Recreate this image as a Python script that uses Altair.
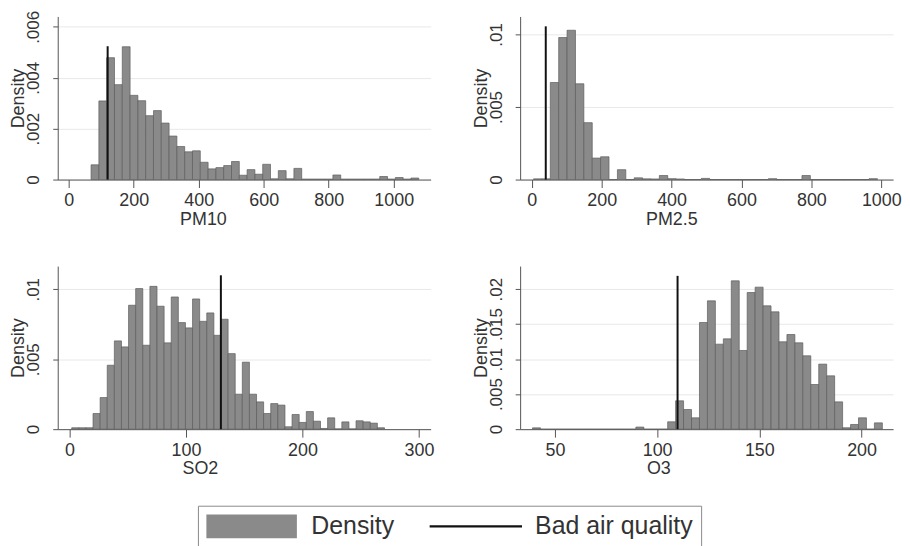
import altair as alt
import pandas as pd

FONT = "Liberation Sans"
BAR_FILL = "#8a8a8a"
BAR_STROKE = "#5e5e5e"
LINE_COLOR = "#111111"

# ---------------- data ----------------
pm10_bin_start = 69.0
pm10_bin_width = 24.0
pm10_density = [0.00058, 0.00309, 0.00479, 0.00373, 0.00522, 0.00331, 0.00310, 0.00251, 0.00271, 0.00222,
                0.00171, 0.00130, 0.00109, 0.00113, 0.00068, 0.00042, 0.00047, 0.00055, 0.00071, 0.00017,
                0.00039, 0.00021, 0.00060, 0.00003, 0.00035, 0.00003, 0.00044, 0.00002, 0.00002, 0.00002,
                0.00002, 0.00018, 0.00002, 0.00002, 0.00002, 0.00002, 0.00002, 0.00012, 0.00002, 0.00008,
                0.00002, 0.00006]
pm10_bad = 120
pm10_line_top = 0.00524

pm25_bin_start = 5.0
pm25_bin_width = 24.0
pm25_density = [0.00005, 0.00005, 0.00669, 0.00979, 0.01029, 0.00660, 0.00392, 0.00148, 0.00157, 0.0,
                0.00068, 0.0, 0.00012, 0.00005, 0.00004, 0.00028, 0.00006, 0.00004, 0.0, 0.0,
                0.00008, 0.0, 0.0, 0.0, 0.0, 0.0, 0.0, 0.0, 0.00006, 0.0,
                0.0, 0.0, 0.00028, 0.0, 0.0, 0.0, 0.0, 0.0, 0.0, 0.0,
                0.00006]
pm25_bad = 40
pm25_line_top = 0.01056

so2_bin_start = 2.0
so2_bin_width = 6.1
so2_density = [0.0001, 0.0001, 0.0001, 0.00112, 0.00226, 0.00457, 0.00631, 0.00588, 0.00886, 0.01005,
               0.00600, 0.01021, 0.00879, 0.00617, 0.00945, 0.00762, 0.00724, 0.00931, 0.00771, 0.00831,
               0.00671, 0.00786, 0.00540, 0.00250, 0.00479, 0.00250, 0.00195, 0.00112, 0.00183, 0.00172,
               0.00017, 0.00105, 0.00048, 0.00126, 0.00057, 0.00005, 0.00081, 0.00002, 0.00052, 0.00002,
               0.00060, 0.00052, 0.00043, 0.00010]
so2_bad = 130
so2_line_top = 0.0110

o3_bin_start = 39.05
o3_bin_width = 3.889
o3_density = [0.00019, 0.0, 0.0, 0.0, 0.0, 0.0, 0.0, 0.0, 0.0, 0.0,
              0.0, 0.0, 0.0, 0.0003, 0.0, 0.0, 0.0, 0.00105, 0.00405, 0.00281,
              0.00162, 0.01524, 0.01833, 0.01214, 0.0129, 0.02119, 0.01124, 0.01952, 0.02029, 0.01762,
              0.01676, 0.01248, 0.01352, 0.01233, 0.01048, 0.00638, 0.00929, 0.00762, 0.0039, 0.0002,
              0.00067, 0.00162, 0.0, 0.0009]
o3_bad = 110
o3_line_top = 0.0219

pm10_xticks = [0, 200, 400, 600, 800, 1000]
pm25_xticks = [0, 200, 400, 600, 800, 1000]
so2_xticks = [0, 100, 200, 300]
o3_xticks = [50, 100, 150, 200]

pm10_yticks = [0, 0.002, 0.004, 0.006]
pm25_yticks = [0, 0.005, 0.01]
so2_yticks = [0, 0.005, 0.01]
o3_yticks = [0, 0.005, 0.01, 0.015, 0.02]

legend_labels = ["Density", "Bad air quality"]

# ---------------- chart ----------------
W, H = 375, 164
RECT_PATH = "M-1,-0.264H1V0.264H-1Z"
LINE_PATH = "M-1.03,-0.025H1.03V0.025H-1.03Z"
Y_LABEL_EXPR = "datum.value == 0 ? '0' : slice(format(datum.value, '.3~f'), 1)"


def panel(name, start, width, dens, bad, top, xdom, xticks, ydom, yticks, title_x, legend=False):
    n = len(dens)
    df = pd.DataFrame({
        "x0": [start + i * width for i in range(n)],
        "x1": [start + (i + 1) * width for i in range(n)],
        "density": dens,
    })
    xs = alt.Scale(domain=xdom, nice=False, zero=False)
    ys = alt.Scale(domain=ydom, nice=False, zero=False)
    bars = alt.Chart(df).mark_rect(fill=BAR_FILL, stroke=BAR_STROKE, strokeWidth=0.7, opacity=1).encode(
        x=alt.X("x0:Q", scale=xs, axis=alt.Axis(
            values=xticks, format="d", title=name, titleX=title_x, titleY=31, titleBaseline="top",
            titleAlign="center", labelFlush=False, labelOverlap=False,
            tickSize=8, labelPadding=4, grid=False)),
        x2="x1:Q",
        y=alt.Y("density:Q", scale=ys, axis=alt.Axis(
            values=yticks, title="Density", labelAngle=270, labelAlign="center",
            labelBaseline="bottom", labelPadding=10, tickSize=5, labelFontSize=17,
            titleAngle=270, titleBaseline="bottom", titleX=-30,
            grid=True, gridColor="#e8e8e8", gridWidth=1,
            labelExpr=Y_LABEL_EXPR)),
        y2=alt.datum(0),
    )
    rdf = pd.DataFrame({"bad": [bad], "top": [top]})
    rule = alt.Chart(rdf).mark_rule(color=LINE_COLOR, strokeWidth=2).encode(
        x=alt.X("bad:Q", scale=xs, title=name),
        y=alt.Y("top:Q", scale=ys, title="Density"),
        y2=alt.datum(0),
    )
    layers = [bars, rule]
    if legend:
        leg = alt.Legend(
            orient="none", legendX=141, legendY=492, direction="horizontal", columns=2,
            title=None, labelFontSize=25, labelFont=FONT, labelColor="#333333",
            symbolSize=8281, symbolStrokeColor="#666666", symbolStrokeWidth=1,
            symbolOpacity=1, clipHeight=25, strokeColor="#8a8a8a", fillColor="white",
            padding=8, columnPadding=35, labelOffset=14)
        ldf = pd.DataFrame({"series": legend_labels})
        pts = alt.Chart(ldf).transform_filter("false").mark_point(filled=True).encode(
            color=alt.Color("series:N", scale=alt.Scale(domain=legend_labels, range=[BAR_FILL, LINE_COLOR]), legend=leg),
            shape=alt.Shape("series:N", scale=alt.Scale(domain=legend_labels, range=[RECT_PATH, LINE_PATH]), legend=leg),
        )
        layers.append(pts)
    return alt.layer(*layers).properties(width=W, height=H)


p1 = panel("PM10", pm10_bin_start, pm10_bin_width, pm10_density, pm10_bad, pm10_line_top,
           [-33.6, 1113.6], pm10_xticks, [0, 0.00641], pm10_yticks, 146, legend=True)
p2 = panel("PM2.5", pm25_bin_start, pm25_bin_width, pm25_density, pm25_bad, pm25_line_top,
           [-33.3, 1033.6], pm25_xticks, [0, 0.01124], pm25_yticks, 152)
p3 = panel("SO2", so2_bin_start, so2_bin_width, so2_density, so2_bad, so2_line_top,
           [-10.0, 310.0], so2_xticks, [0, 0.01166], so2_yticks, 143)
p4 = panel("O3", o3_bin_start, o3_bin_width, o3_density, o3_bad, o3_line_top,
           [33.0, 215.4], o3_xticks, [0, 0.0233], o3_yticks, 139)

chart = alt.concat(p1, p2, p3, p4, columns=2, spacing={"row": 87, "column": 90}, bounds="flush").resolve_scale(
    x="independent", y="independent"
).properties(
    padding={"left": 2, "top": 0, "right": 0, "bottom": 0},
    background="white",
).configure(font=FONT).configure_view(stroke=None).configure_axis(
    labelFont=FONT, titleFont=FONT, labelFontSize=18, titleFontSize=18,
    titleFontWeight="normal", labelColor="#333333", titleColor="#333333",
    domainColor="#555555", tickColor="#555555", domainWidth=1, tickWidth=1,
)

chart.save("out.html", embed_options={"renderer": "svg", "actions": False})
